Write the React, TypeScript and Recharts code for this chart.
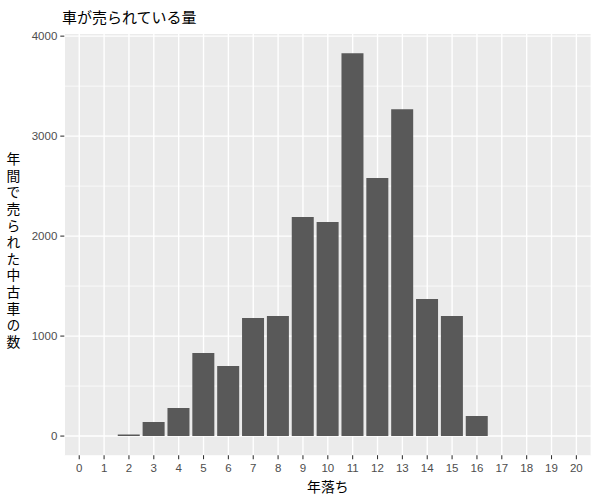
import React from "react";
import { BarChart, Bar, XAxis, YAxis, CartesianGrid } from "recharts";

const ages = ["0","1","2","3","4","5","6","7","8","9","10","11","12","13","14","15","16","17","18","19","20"];
const counts = [0, 0, 15, 140, 280, 830, 700, 1180, 1200, 2190, 2140, 3830, 2580, 3270, 1370, 1200, 200, 0, 0, 0, 0];
const yTicks = [0, 1000, 2000, 3000, 4000];
const yMinor = [500, 1500, 2500, 3500];
const titleText = "車が売られている量";
const xTitle = "年落ち";
const yTitle = "年間で売られた中古車の数";

const data = ages.map((a, i) => ({ age: a, n: counts[i] }));

const CJK = "'Noto Sans CJK JP', 'Noto Sans', sans-serif";
const SANS = "'Liberation Sans', Arial, sans-serif";

const XTitle = (props: any) => {
  const vb = props.viewBox || {};
  return (
    <text x={vb.x + vb.width / 2} y={492} textAnchor="middle" fontSize={13.8} fontFamily={CJK} fill="#000">
      {xTitle}
    </text>
  );
};

const YTitle = () => (
  <text
    x={13.5}
    y={152}
    textAnchor="start"
    fontSize={13.8}
    fontFamily={CJK}
    fill="#000"
    style={{ writingMode: "vertical-rl", letterSpacing: "2.8px" } as any}
  >
    {yTitle}
  </text>
);

export default function App() {
  return (
    <div style={{ position: "absolute", left: 0, top: 0, width: 600, height: 500, background: "#fff" }}>
      <BarChart
        width={600}
        height={500}
        data={data}
        margin={{ top: 34, right: 8.7, bottom: 0, left: 0 }}
        barCategoryGap="5%"
      >
        <CartesianGrid
          fill="#EBEBEB"
          stroke="#FFFFFF"
          strokeWidth={0.7}
          vertical={false}
          horizontalValues={yMinor}
        />
        <CartesianGrid
          fill="none"
          stroke="#FFFFFF"
          strokeWidth={1.4}
          horizontalValues={yTicks}
        />
        <XAxis
          dataKey="age"
          type="category"
          interval={0}
          height={44.8}
          padding={{ left: 2.5, right: 2.5 }}
          axisLine={false}
          tickLine={{ stroke: "#333333", strokeWidth: 1.07 }}
          tickSize={4}
          tickMargin={5}
          tick={{ fill: "#4D4D4D", fontSize: 11.5, fontFamily: SANS }}
          label={{ content: XTitle }}
        />
        <YAxis
          type="number"
          domain={[-191.5, 4021.5]}
          allowDataOverflow
          ticks={yTicks}
          width={64.3}
          axisLine={false}
          tickLine={{ stroke: "#333333", strokeWidth: 1.07 }}
          tickSize={4}
          tickMargin={3}
          tick={{ fill: "#4D4D4D", fontSize: 11.5, fontFamily: SANS }}
        />
        <Bar dataKey="n" fill="#595959" isAnimationActive={false} />
        <text x={62} y={22.5} fontSize={15} fontFamily={CJK} fill="#000">{titleText}</text>
        <YTitle />
      </BarChart>
    </div>
  );
}
